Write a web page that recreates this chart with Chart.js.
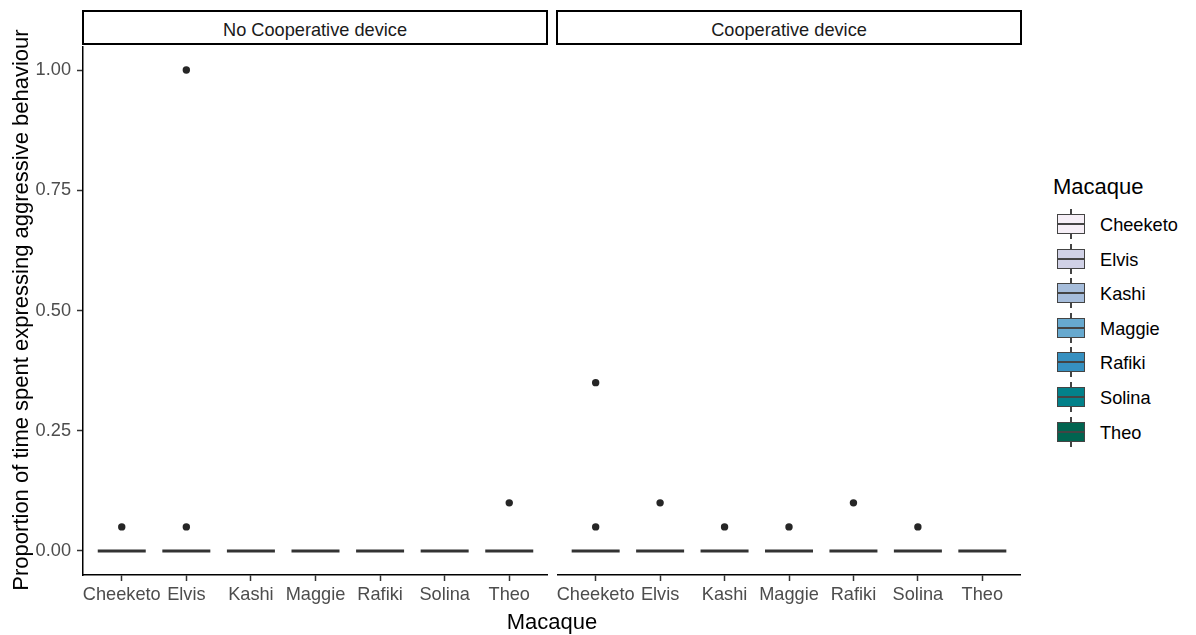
<!DOCTYPE html>
<html lang="en">
<head>
<meta charset="UTF-8">
<title>Aggressive behaviour by macaque</title>
<script src="https://cdn.jsdelivr.net/npm/chart.js@4.4.1/dist/chart.umd.min.js"></script>
<style>
    body { margin: 0; background: #fff; font-family: "Liberation Sans", Arial, sans-serif; }
    #wrap { position: relative; width: 1196px; height: 635px; overflow: hidden; }
    canvas { position: absolute; }
    .strip {
        position: absolute; top: 10px; height: 35px; box-sizing: border-box;
        border: 2px solid #000; background: #fff; color: #1a1a1a;
        font-size: 18.2px; line-height: 36px; text-align: center; overflow: hidden;
    }
    .title { position: absolute; font-size: 22px; line-height: 22px; color: #000; white-space: nowrap; }
    .key { position: absolute; width: 28px; height: 30px; }
    .key .whisker { position: absolute; left: 13px; top: 0; width: 1.5px; height: 30px; background: #444; }
    .key .box { position: absolute; left: 0; top: 5px; width: 28px; height: 20px; box-sizing: border-box; border: 1.5px solid #444; }
    .key .med { position: absolute; left: 0; top: 14px; width: 28px; height: 2px; background: #444; }
    .keylabel { position: absolute; font-size: 18.2px; line-height: 18px; color: #000; }
</style>
</head>
<body>
<div id="wrap">
    <canvas id="left-panel" width="548" height="569" style="left:0;top:46px"></canvas>
    <canvas id="right-panel" width="464" height="569" style="left:557px;top:46px"></canvas>
    <div class="strip" style="left:82px;width:466px">No Cooperative device</div>
    <div class="strip" style="left:556px;width:466px">Cooperative device</div>
    <div class="title" style="left:252px;top:611px;width:600px;text-align:center">Macaque</div>
    <div class="title" style="left:-279px;top:299px;width:600px;text-align:center;transform:rotate(-90deg)">Proportion of time spent expressing aggressive behaviour</div>
    <div id="legend"></div>
</div>

<script>
    // Macaques on the x axis (same order in both facets)
    const categories = ['Cheeketo', 'Elvis', 'Kashi', 'Maggie', 'Rafiki', 'Solina', 'Theo'];
    const yTicks = [0, 0.25, 0.5, 0.75, 1];

    // Box medians (every box is collapsed onto zero)
    const noCoopMedians = [0, 0, 0, 0, 0, 0, 0];
    const coopMedians = [0, 0, 0, 0, 0, 0, 0];

    // Outlier points
    const noCoopOutlierMacaque = ['Cheeketo', 'Elvis', 'Elvis', 'Theo'];
    const noCoopOutlierValue = [0.05, 1.00, 0.05, 0.10];
    const coopOutlierMacaque = ['Cheeketo', 'Cheeketo', 'Elvis', 'Kashi', 'Maggie', 'Rafiki', 'Solina'];
    const coopOutlierValue = [0.35, 0.05, 0.10, 0.05, 0.05, 0.10, 0.05];

    // PuBuGn fill colours for the legend
    const macaquePalette = ['#f6eff7', '#d0d1e6', '#a6bddb', '#67a9cf', '#3690c0', '#02818a', '#016450'];

    const FONT = 'Liberation Sans';

    function toPoints(names, values) {
        return names.map((n, i) => ({ x: categories.indexOf(n) + 1, y: values[i] }));
    }

    function makePanel(canvasId, medians, outNames, outValues, showY) {
        new Chart(document.getElementById(canvasId), {
            type: 'scatter',
            data: {
                datasets: [{
                    // collapsed boxes drawn as horizontal median bars
                    data: medians.map((m, i) => ({ x: i + 1, y: m })),
                    pointStyle: 'line',
                    pointRadius: 24,
                    pointBorderWidth: 3,
                    pointBorderColor: '#333',
                    pointBackgroundColor: '#333'
                }, {
                    data: toPoints(outNames, outValues),
                    pointStyle: 'circle',
                    pointRadius: 3.7,
                    pointBorderWidth: 0,
                    pointBackgroundColor: '#262626'
                }]
            },
            options: {
                responsive: false,
                animation: false,
                events: [],
                layout: { padding: 0, autoPadding: false },
                plugins: { legend: { display: false }, tooltip: { enabled: false } },
                scales: {
                    x: {
                        type: 'linear',
                        min: 0.4,
                        max: 7.6,
                        afterBuildTicks: s => { s.ticks = categories.map((c, i) => ({ value: i + 1 })); },
                        afterFit: s => { s.height = 40; s.paddingLeft = 0; s.paddingRight = 0; },
                        ticks: {
                            autoSkip: false, maxRotation: 0, minRotation: 0, padding: 3,
                            color: '#4d4d4d', font: { family: FONT, size: 18.2 },
                            callback: v => categories[v - 1]
                        },
                        grid: { display: true, drawOnChartArea: false, drawTicks: true, tickLength: 6, tickColor: '#333', tickWidth: 1.5 },
                        border: { display: true, color: '#000', width: 1.5 }
                    },
                    y: {
                        display: showY,
                        min: -0.05,
                        max: 1.05,
                        afterBuildTicks: s => { s.ticks = yTicks.map(v => ({ value: v })); },
                        afterFit: s => { s.width = showY ? 83 : 0; s.paddingTop = 0; s.paddingBottom = 0; },
                        ticks: {
                            padding: 6, color: '#4d4d4d', font: { family: FONT, size: 18.2 },
                            callback: v => v.toFixed(2)
                        },
                        grid: { display: true, drawOnChartArea: false, drawTicks: true, tickLength: 6, tickColor: '#333', tickWidth: 1.5 },
                        border: { display: true, color: '#000', width: 1.5 }
                    }
                }
            }
        });
    }

    makePanel('left-panel', noCoopMedians, noCoopOutlierMacaque, noCoopOutlierValue, true);
    makePanel('right-panel', coopMedians, coopOutlierMacaque, coopOutlierValue, false);

    // Legend (ggplot style boxplot keys)
    const legend = document.getElementById('legend');
    let html = '<div class="title" style="left:1053px;top:176px">Macaque</div>';
    categories.forEach((name, i) => {
        const cy = 224 + i * 34.6;
        html += '<div class="key" style="left:1057px;top:' + (cy - 15) + 'px">' +
            '<div class="whisker"></div>' +
            '<div class="box" style="background:' + macaquePalette[i] + '"></div>' +
            '<div class="med"></div></div>';
        html += '<div class="keylabel" style="left:1100px;top:' + (cy - 8) + 'px">' + name + '</div>';
    });
    legend.innerHTML = html;
</script>
</body>
</html>
